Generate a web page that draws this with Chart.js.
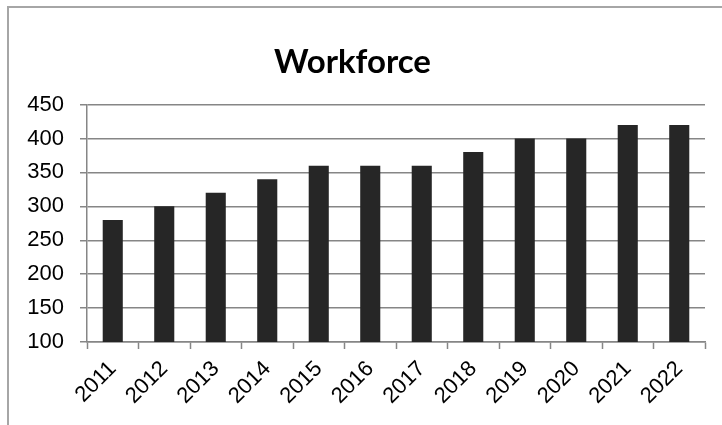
<!DOCTYPE html>
<html>
<head>
<meta charset="utf-8">
<script src="https://cdn.jsdelivr.net/npm/chart.js@4"></script>
<style>
  html, body { margin: 0; padding: 0; background: #fff; overflow: hidden; }
  #frame {
    position: absolute; left: 7px; top: 6px; width: 760px; height: 460px;
    border: 2px solid #a6a6a6;
  }
  #wrap { position: absolute; left: 0; top: 0; width: 722px; height: 425px; }
</style>
</head>
<body>
<div id="frame"></div>
<div id="wrap"><canvas id="myChart" width="722" height="425"></canvas></div>
<script>
// chart data
let years = ['2011','2012','2013','2014','2015','2016','2017','2018','2019','2020','2021','2022'];
let workforce = [280,300,320,340,360,360,360,380,400,400,420,420];
let yTicks = [100,150,200,250,300,350,400,450];

let gridGray = '#868686';

let ctx = document.getElementById('myChart').getContext('2d');
let chart1 = new Chart(ctx, {
    type: 'bar',
    data: {
        labels: years,
        datasets: [{
            label: 'Workforce',
            data: workforce,
            backgroundColor: '#262626',
            borderWidth: 0,
            barPercentage: 0.39,
            categoryPercentage: 1.0
        }]
    },
    options: {
        responsive: false,
        animation: false,
        layout: {
            padding: { left: 0, right: 17, top: 0, bottom: 0 }
        },
        plugins: {
            legend: { display: false },
            tooltip: { enabled: false },
            title: {
                display: true,
                text: 'Workforce',
                color: '#000',
                font: { family: 'Lato', size: 33, weight: 'bold', lineHeight: 1.2 },
                padding: { top: 43, bottom: 22 }
            }
        },
        scales: {
            x: {
                grid: {
                    display: true,
                    drawOnChartArea: false,
                    drawTicks: true,
                    tickLength: 7,
                    tickWidth: 1.5,
                    color: gridGray,
                    offset: true
                },
                border: { display: true, color: gridGray, width: 1.5 },
                ticks: {
                    color: '#000',
                    font: { family: 'Liberation Sans', size: 22 },
                    maxRotation: 45,
                    minRotation: 45,
                    padding: 7
                },
                afterFit: function(scale) { scale.height = 83; }
            },
            y: {
                min: 100,
                max: 450,
                afterBuildTicks: function(scale) {
                    scale.ticks = yTicks.map(function(v) { return { value: v }; });
                },
                grid: {
                    color: gridGray,
                    lineWidth: 1.5,
                    drawTicks: true,
                    tickLength: 7
                },
                border: { display: true, color: gridGray, width: 1.5 },
                ticks: {
                    color: '#000',
                    font: { family: 'Liberation Sans', size: 22 },
                    padding: 16
                },
                afterFit: function(scale) { scale.width = 87; }
            }
        }
    }
});
</script>
</body>
</html>
